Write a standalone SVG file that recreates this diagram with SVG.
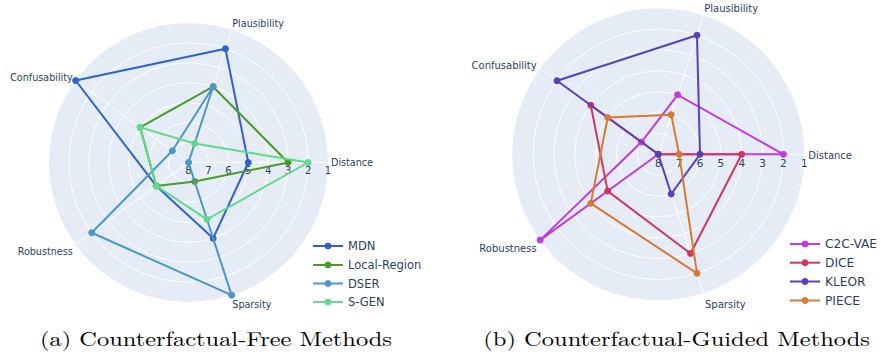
<svg xmlns="http://www.w3.org/2000/svg" width="881" height="356" viewBox="0 0 881 356">
<style>
.bg{fill:#E5ECF6}
.grid{fill:none;stroke:#FFFFFF;stroke-width:1}
.tick{font-family:"DejaVu Sans",Verdana,sans-serif;fill:#2A3F5F;text-anchor:middle}
.ax{font-family:"DejaVu Sans",Verdana,sans-serif;fill:#2A3F5F}
.leg{font-family:"DejaVu Sans",Verdana,sans-serif;fill:#2A3F5F}
.trace{fill:none;stroke-width:2;stroke-linejoin:round}
.cap{font-family:"Latin Modern Roman","Liberation Serif","DejaVu Serif",serif;font-size:20px;fill:#000}
</style>
<rect width="881" height="356" fill="#FFFFFF"/>

<!-- Left chart -->
<g id="chart-a">
  <circle class="bg" cx="188.5" cy="162.5" r="139.5"/>
  <g class="grid">
    <circle cx="188.5" cy="162.5" r="19.93"/>
    <circle cx="188.5" cy="162.5" r="39.86"/>
    <circle cx="188.5" cy="162.5" r="59.79"/>
    <circle cx="188.5" cy="162.5" r="79.71"/>
    <circle cx="188.5" cy="162.5" r="99.64"/>
    <circle cx="188.5" cy="162.5" r="119.57"/>
    <line x1="188.5" y1="162.5" x2="328" y2="162.5"/>
    <line x1="188.5" y1="162.5" x2="231.61" y2="29.83"/>
    <line x1="188.5" y1="162.5" x2="75.64" y2="80.5"/>
    <line x1="188.5" y1="162.5" x2="75.64" y2="244.5"/>
    <line x1="188.5" y1="162.5" x2="231.61" y2="295.17"/>
  </g>
  <g class="tick" font-size="10">
    <text x="188.5" y="174.3">8</text>
    <text x="208.4" y="174.3">7</text>
    <text x="228.4" y="174.3">6</text>
    <text x="248.3" y="174.3">5</text>
    <text x="268.2" y="174.3">4</text>
    <text x="288.1" y="174.3">3</text>
    <text x="308.1" y="174.3">2</text>
    <text x="328" y="174.3">1</text>
  </g>
  <g class="ax" font-size="9.6">
    <text x="331" y="166.2">Distance</text>
    <text x="232.3" y="26.8">Plausibility</text>
    <text x="72.7" y="80.8" text-anchor="end">Confusability</text>
    <text x="72.7" y="254.5" text-anchor="end">Robustness</text>
    <text x="232.3" y="307.8">Sparsity</text>
  </g>
  <g id="a-mdn" stroke="#2F62D0" fill="#2F62D0">
    <polygon class="trace" points="248.29,162.5 225.45,48.78 75.64,80.5 156.25,185.93 213.13,238.31"/>
    <circle cx="248.29" cy="162.5" r="3"/><circle cx="225.45" cy="48.78" r="3"/><circle cx="75.64" cy="80.5" r="3"/><circle cx="156.25" cy="185.93" r="3"/><circle cx="213.13" cy="238.31" r="3"/>
  </g>
  <g id="a-local-region" stroke="#4B9A2B" fill="#4B9A2B">
    <polygon class="trace" points="288.14,162.5 213.13,86.69 140.13,127.36 156.25,185.93 194.66,181.45"/>
    <circle cx="288.14" cy="162.5" r="3"/><circle cx="213.13" cy="86.69" r="3"/><circle cx="140.13" cy="127.36" r="3"/><circle cx="156.25" cy="185.93" r="3"/><circle cx="194.66" cy="181.45" r="3"/>
  </g>
  <g id="a-dser" stroke="#4A97C8" fill="#4A97C8">
    <polygon class="trace" points="188.5,162.5 213.13,86.69 172.38,150.79 91.77,232.78 231.61,295.17"/>
    <circle cx="188.5" cy="162.5" r="3"/><circle cx="213.13" cy="86.69" r="3"/><circle cx="172.38" cy="150.79" r="3"/><circle cx="91.77" cy="232.78" r="3"/><circle cx="231.61" cy="295.17" r="3"/>
  </g>
  <g id="a-sgen" stroke="#62D98B" fill="#62D98B">
    <polygon class="trace" points="308.07,162.5 194.66,143.55 140.13,127.36 156.25,185.93 206.98,219.36"/>
    <circle cx="308.07" cy="162.5" r="3"/><circle cx="194.66" cy="143.55" r="3"/><circle cx="140.13" cy="127.36" r="3"/><circle cx="156.25" cy="185.93" r="3"/><circle cx="206.98" cy="219.36" r="3"/>
  </g>
  <g id="a-legend" class="leg" font-size="11.5">
    <g stroke="#2F62D0" fill="#2F62D0"><line x1="313" y1="246" x2="343" y2="246" stroke-width="2"/><circle cx="328" cy="246" r="3"/></g>
    <text x="348" y="250">MDN</text>
    <g stroke="#4B9A2B" fill="#4B9A2B"><line x1="313" y1="265" x2="343" y2="265" stroke-width="2"/><circle cx="328" cy="265" r="3"/></g>
    <text x="348" y="269">Local-Region</text>
    <g stroke="#4A97C8" fill="#4A97C8"><line x1="313" y1="283.5" x2="343" y2="283.5" stroke-width="2"/><circle cx="328" cy="283.5" r="3"/></g>
    <text x="348" y="287.5">DSER</text>
    <g stroke="#62D98B" fill="#62D98B"><line x1="313" y1="302" x2="343" y2="302" stroke-width="2"/><circle cx="328" cy="302" r="3"/></g>
    <text x="348" y="306">S-GEN</text>
  </g>
  <text class="cap" x="40" y="346" textLength="352" lengthAdjust="spacingAndGlyphs">(a) Counterfactual-Free Methods</text>
</g>

<!-- Right chart -->
<g id="chart-b">
  <circle class="bg" cx="658.3" cy="154.3" r="146"/>
  <g class="grid">
    <circle cx="658.3" cy="154.3" r="20.86"/>
    <circle cx="658.3" cy="154.3" r="41.71"/>
    <circle cx="658.3" cy="154.3" r="62.57"/>
    <circle cx="658.3" cy="154.3" r="83.43"/>
    <circle cx="658.3" cy="154.3" r="104.29"/>
    <circle cx="658.3" cy="154.3" r="125.14"/>
    <line x1="658.3" y1="154.3" x2="804.3" y2="154.3"/>
    <line x1="658.3" y1="154.3" x2="703.42" y2="15.45"/>
    <line x1="658.3" y1="154.3" x2="540.18" y2="68.48"/>
    <line x1="658.3" y1="154.3" x2="540.18" y2="240.12"/>
    <line x1="658.3" y1="154.3" x2="703.42" y2="293.15"/>
  </g>
  <g class="tick" font-size="10.4">
    <text x="658.3" y="167.4">8</text>
    <text x="679.2" y="167.4">7</text>
    <text x="700" y="167.4">6</text>
    <text x="720.9" y="167.4">5</text>
    <text x="741.7" y="167.4">4</text>
    <text x="762.6" y="167.4">3</text>
    <text x="783.4" y="167.4">2</text>
    <text x="804.3" y="167.4">1</text>
  </g>
  <g class="ax" font-size="10">
    <text x="808.3" y="158.6">Distance</text>
    <text x="704.3" y="11.6">Plausibility</text>
    <text x="536.7" y="68.6" text-anchor="end">Confusability</text>
    <text x="536.7" y="251.9" text-anchor="end">Robustness</text>
    <text x="705" y="307.9">Sparsity</text>
  </g>
  <g id="b-c2c-vae" stroke="#C03DDB" fill="#C03DDB">
    <polygon class="trace" points="783.44,154.3 677.64,94.79 641.43,142.04 540.18,240.12 658.3,154.3"/>
    <circle cx="783.44" cy="154.3" r="3"/><circle cx="677.64" cy="94.79" r="3"/><circle cx="641.43" cy="142.04" r="3"/><circle cx="540.18" cy="240.12" r="3"/><circle cx="658.3" cy="154.3" r="3"/>
  </g>
  <g id="b-dice" stroke="#D23660" fill="#D23660">
    <polygon class="trace" points="741.73,154.3 658.3,154.3 590.8,105.26 607.68,191.08 690.53,253.48"/>
    <circle cx="741.73" cy="154.3" r="3"/><circle cx="658.3" cy="154.3" r="3"/><circle cx="590.8" cy="105.26" r="3"/><circle cx="607.68" cy="191.08" r="3"/><circle cx="690.53" cy="253.48" r="3"/>
  </g>
  <g id="b-kleor" stroke="#5B3FBA" fill="#5B3FBA">
    <polygon class="trace" points="700.01,154.3 696.97,35.28 557.06,80.74 658.3,154.3 671.19,193.97"/>
    <circle cx="700.01" cy="154.3" r="3"/><circle cx="696.97" cy="35.28" r="3"/><circle cx="557.06" cy="80.74" r="3"/><circle cx="658.3" cy="154.3" r="3"/><circle cx="671.19" cy="193.97" r="3"/>
  </g>
  <g id="b-piece" stroke="#D87A33" fill="#D87A33">
    <polygon class="trace" points="679.16,154.3 671.19,114.63 607.68,117.52 590.8,203.34 696.97,273.32"/>
    <circle cx="679.16" cy="154.3" r="3"/><circle cx="671.19" cy="114.63" r="3"/><circle cx="607.68" cy="117.52" r="3"/><circle cx="590.8" cy="203.34" r="3"/><circle cx="696.97" cy="273.32" r="3"/>
  </g>
  <g id="b-legend" class="leg" font-size="12.2">
    <g stroke="#C03DDB" fill="#C03DDB"><line x1="790" y1="244" x2="820" y2="244" stroke-width="2"/><circle cx="805" cy="244" r="3"/></g>
    <text x="825" y="248.3">C2C-VAE</text>
    <g stroke="#D23660" fill="#D23660"><line x1="790" y1="262.7" x2="820" y2="262.7" stroke-width="2"/><circle cx="805" cy="262.7" r="3"/></g>
    <text x="825" y="267">DICE</text>
    <g stroke="#5B3FBA" fill="#5B3FBA"><line x1="790" y1="281.5" x2="820" y2="281.5" stroke-width="2"/><circle cx="805" cy="281.5" r="3"/></g>
    <text x="825" y="285.8">KLEOR</text>
    <g stroke="#D87A33" fill="#D87A33"><line x1="790" y1="300.5" x2="820" y2="300.5" stroke-width="2"/><circle cx="805" cy="300.5" r="3"/></g>
    <text x="825" y="304.8">PIECE</text>
  </g>
  <text class="cap" x="483.3" y="346" textLength="386.7" lengthAdjust="spacingAndGlyphs">(b) Counterfactual-Guided Methods</text>
</g>
</svg>
